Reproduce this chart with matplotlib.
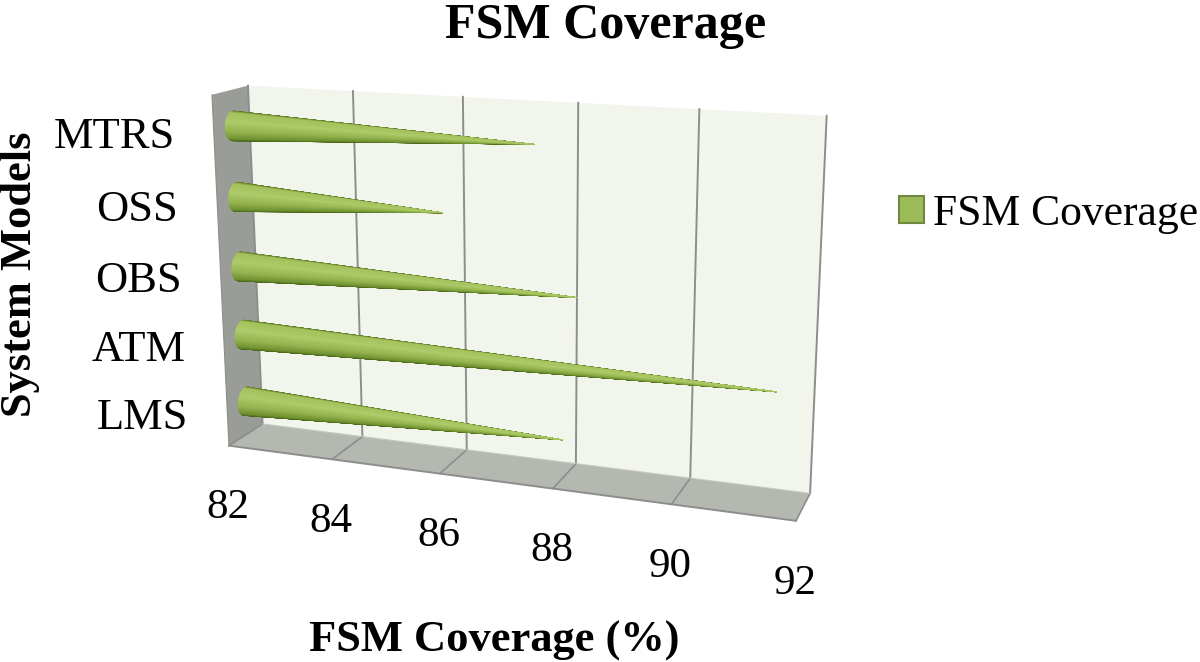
import numpy as np
import matplotlib
matplotlib.use('Agg')
from matplotlib import pyplot as plt
from matplotlib.colors import LinearSegmentedColormap
from matplotlib.patches import Patch, Polygon

categories = ['LMS', 'ATM', 'OBS', 'OSS', 'MTRS']
coverage = [87.95, 91.5, 88.2, 85.85, 87.45]
ticks = [82, 84, 86, 88, 90, 92]

plt.rcParams['font.family'] = ['Liberation Serif', 'DejaVu Serif']

# pixel positions of the box corners, used to fit the 3D look of the chart
# (share of value axis, share of height, depth 0 front / 1 back)
anchors = [
    (0, 0, 1, 262, 423), (.2, 0, 1, 362, 437), (.4, 0, 1, 467, 450),
    (.6, 0, 1, 576, 463), (.8, 0, 1, 690, 478), (1, 0, 1, 810, 495),
    (0, 1, 1, 249, 86), (.2, 1, 1, 353, 91), (.4, 1, 1, 463, 97),
    (.6, 1, 1, 578, 103), (.8, 1, 1, 699, 109), (1, 1, 1, 827, 115),
    (0, 0, 0, 228, 447), (.2, 0, 0, 333, 459), (.4, 0, 0, 441, 473),
    (.6, 0, 0, 553, 488), (.8, 0, 0, 672, 503), (1, 0, 0, 795, 522),
    (0, 1, 0, 211, 95),
]


def fit_camera(points):
    rows, target = [], []
    for u, h, d, px, py in points:
        rows.append([u, h, d, 1, 0, 0, 0, 0, -px * u, -px * h, -px * d])
        rows.append([0, 0, 0, 0, u, h, d, 1, -py * u, -py * h, -py * d])
        target += [px, py]
    sol = np.linalg.lstsq(np.array(rows, float), np.array(target, float), rcond=None)[0]
    return np.append(sol, 1).reshape(3, 4)


camera = fit_camera(anchors)


def project(value, h, d):
    u = (np.asarray(value, float) - ticks[0]) / (ticks[-1] - ticks[0])
    u, h, d = np.broadcast_arrays(u, h, d)
    world = np.stack([u, h, d, np.ones_like(u, dtype=float)], axis=-1)
    res = world @ camera.T
    return res[..., :2] / res[..., 2:]


def face(ax, pts, color, **kw):
    ax.add_patch(Polygon(np.array(pts), closed=True, facecolor=color, edgecolor='none', **kw))


def draw_cone(ax, value, h, r_h=0.041, r_d=0.22, mid=0.53):
    # Strips from the round base to the tip, hidden side first
    t = np.linspace(0, 2 * np.pi, 121)
    base = project(ticks[0], h + r_h * np.cos(t), mid + r_d * np.sin(t))
    tip = project(value, h, mid)
    centre = project(ticks[0], h, mid)
    along = (tip - centre) / np.linalg.norm(tip - centre)
    side = (base - centre) @ np.array([along[1], -along[0]])
    side = (side - side.min()) / (side.max() - side.min())
    tm = t[:-1] + (t[1] - t[0]) / 2
    for i in np.argsort(np.cos(tm + np.radians(35))):
        shade = cone_cmap((side[i] + side[i + 1]) / 2)
        ax.add_patch(Polygon([base[i], base[i + 1], tip], closed=True,
                             facecolor=shade, edgecolor=shade, lw=0.4, zorder=5))


cone_cmap = LinearSegmentedColormap.from_list(
    'cone', [(0, '#4a6618'), (.06, '#6f9030'), (.3, '#93b44e'),
             (.65, '#aecd6b'), (.94, '#a3c25c'), (1, '#5f7d24')])

fig = plt.figure(figsize=(12, 6.62), dpi=100)
ax = fig.add_axes([0, 0, 1, 1])
ax.set_xlim(0, 1200)
ax.set_ylim(662, 0)
ax.axis('off')

lo, hi = ticks[0], ticks[-1]

# walls and floor
face(ax, project([lo, hi, hi, lo], [0, 0, 1, 1], 1), '#f2f5ec')
face(ax, project([lo, hi, hi, lo], 0, [0, 0, 1, 1]), '#b5b7b1')
face(ax, project(lo, [0, 1, 1, 0], [0, 0, 1, 1]), '#9a9c98')

grid = '#8c8e8c'
for v in ticks:
    ax.plot(*project([v, v], [0, 1], 1).T, color=grid, lw=1.4, zorder=2)
    ax.plot(*project([v, v], 0, [0, 1]).T, color=grid, lw=1.2, zorder=2)
ax.plot(*project([lo, hi], 0, 0).T, color=grid, lw=1.4, zorder=2)
ax.plot(*project([lo, lo], [0, 1], 0).T, color=grid, lw=0.8, zorder=2)
ax.plot(*project([lo, hi], 0, 1).T, color='#c4c6c0', lw=0.8, zorder=2)

for name, value, h in zip(categories, coverage, np.arange(.1, 1, .2)):
    draw_cone(ax, value, h)
    ax.annotate(name, project(lo, h, 0), xytext=(-28, -4), textcoords='offset points',
                ha='right', va='center', fontsize=32, color='black')

for v in ticks:
    ax.annotate(str(v), project(v, 0, 0), xytext=(-1, -45), textcoords='offset points',
                ha='center', va='center', fontsize=31, color='black')

ax.text(606, 26, 'FSM Coverage', ha='center', va='center', fontsize=36, fontweight='bold')
ax.text(494, 641, 'FSM Coverage (%)', ha='center', va='center', fontsize=32, fontweight='bold')
ax.text(20, 274, 'System Models', ha='center', va='center', rotation=90, fontsize=32, fontweight='bold')

key = Patch(facecolor='#9bbb59', edgecolor='#71893f', lw=1.5, label='FSM Coverage')
ax.legend(handles=[key], loc='center left', bbox_to_anchor=(899, 214), bbox_transform=ax.transData,
          frameon=False, fontsize=31.4, handlelength=.57, handleheight=.57, handletextpad=.2,
          borderpad=0, borderaxespad=0)

fig.savefig('out.png', dpi=100)
